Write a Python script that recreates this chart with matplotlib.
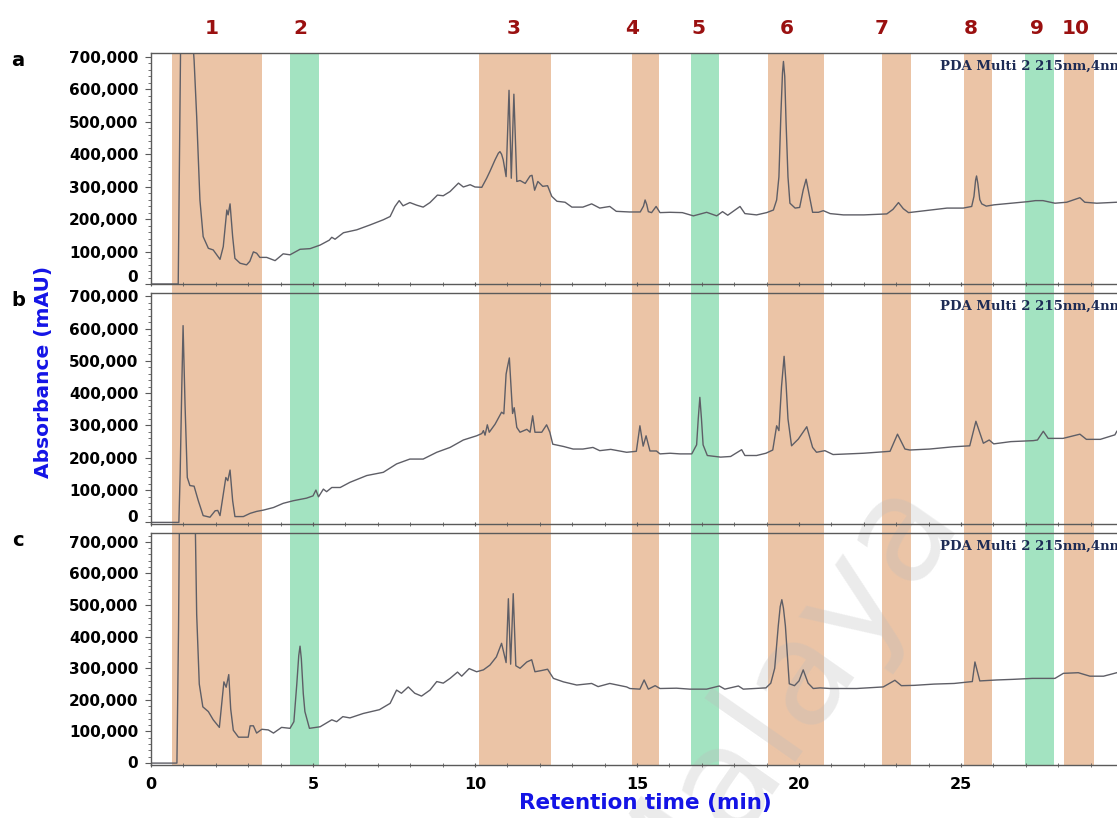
import matplotlib
matplotlib.use('Agg')
import matplotlib.pyplot as plt
from matplotlib.ticker import MultipleLocator, FuncFormatter

plt.rcParams['font.family'] = 'DejaVu Sans'
plt.rcParams['font.weight'] = 'bold'

# ---------------- data ----------------
band_starts = [0.65, 4.29, 10.12, 14.85, 16.67, 19.04, 22.56, 25.09, 26.98, 28.18]
band_ends = [3.43, 5.19, 12.35, 15.68, 17.53, 20.77, 23.46, 25.96, 27.87, 29.10]
band_kinds = ['o', 'g', 'o', 'o', 'g', 'o', 'o', 'o', 'g', 'o']
band_labels = ['1', '2', '3', '4', '5', '6', '7', '8', '9', '10']
band_label_x = [1.88, 4.60, 11.20, 14.85, 16.90, 19.63, 22.56, 25.30, 27.35, 28.55]

panel_letters = ['a', 'b', 'c']

# panel a : retention time (min), absorbance (thousand mAU)
a_time = [0.0, 0.84, 0.86, 0.92, 1.28, 1.33, 1.41, 1.51, 1.61, 1.77, 1.92, 2.13, 2.23, 2.34, 2.38,
          2.44, 2.52, 2.59, 2.75, 2.95, 3.05, 3.16, 3.26, 3.36, 3.57, 3.83, 4.08, 4.29, 4.60, 4.91,
          5.22, 5.50, 5.58, 5.68, 5.94, 6.35, 6.76, 7.17, 7.38, 7.53, 7.66, 7.78, 7.99, 8.20, 8.40,
          8.61, 8.84, 9.02, 9.23, 9.49, 9.64, 9.85, 10.00, 10.21, 10.36, 10.46, 10.62, 10.72, 10.77,
          10.82, 10.87, 10.96, 11.05, 11.12, 11.20, 11.29, 11.39, 11.55, 11.70, 11.76, 11.84, 11.94,
          12.09, 12.24, 12.37, 12.53, 12.78, 12.99, 13.33, 13.60, 13.85, 14.16, 14.36, 14.77, 15.10,
          15.20, 15.25, 15.30, 15.35, 15.45, 15.59, 15.71, 16.02, 16.40, 16.74, 17.15, 17.46, 17.64,
          17.80, 18.18, 18.33, 18.69, 19.00, 19.21, 19.31, 19.38, 19.44, 19.49, 19.52, 19.56, 19.60,
          19.66, 19.72, 19.88, 20.02, 20.13, 20.22, 20.32, 20.42, 20.60, 20.75, 20.96, 21.37, 22.00,
          22.71, 22.90, 23.07, 23.22, 23.38, 23.64, 24.05, 24.57, 25.07, 25.33, 25.40, 25.45, 25.48,
          25.52, 25.58, 25.64, 25.78, 26.02, 26.54, 27.08, 27.30, 27.53, 27.90, 28.26, 28.67, 28.82,
          29.19, 29.81]
a_abs = [0, 0, 200, 800, 760, 690, 516, 259, 146, 110, 105, 76, 115, 228, 213,
         247, 146, 79, 64, 59, 70, 99, 95, 82, 82, 72, 93, 90, 107, 109,
         120, 135, 144, 138, 158, 167, 182, 198, 208, 239, 257, 241, 251, 243, 237,
         251, 274, 272, 285, 311, 299, 306, 299, 298, 326, 347, 383, 403, 408,
         400, 383, 331, 597, 326, 585, 316, 319, 310, 333, 335, 289, 316,
         301, 303, 270, 255, 252, 237, 237, 247, 234, 239, 224, 222, 222,
         240, 259, 245, 223, 220, 239, 220, 221, 220, 210, 221, 210, 223,
         212, 239, 217, 213, 220, 228, 259, 330, 520, 650, 686, 640, 500,
         330, 249, 234, 236, 290, 323, 272, 221, 221, 226, 217, 213, 213,
         216, 230, 251, 232, 220, 223, 228, 234, 234, 239, 270, 320, 333,
         310, 260, 247, 240, 244, 249, 254, 257, 257, 249, 252, 266, 252,
         249, 252]

b_time = [0.0, 0.86, 0.90, 0.95, 0.99, 1.05, 1.12, 1.20, 1.33, 1.46, 1.61, 1.82, 1.98, 2.06, 2.13,
          2.31, 2.37, 2.44, 2.52, 2.59, 2.85, 3.06, 3.26, 3.47, 3.78, 4.08, 4.39, 4.80, 5.00, 5.09,
          5.17, 5.32, 5.42, 5.58, 5.84, 6.14, 6.66, 7.17, 7.58, 7.99, 8.40, 8.82, 9.23, 9.64, 10.05,
          10.21, 10.26, 10.31, 10.38, 10.44, 10.62, 10.82, 10.89, 10.96, 11.00, 11.06, 11.11, 11.16,
          11.21, 11.29, 11.39, 11.60, 11.70, 11.78, 11.85, 12.06, 12.21, 12.31, 12.40, 12.73, 13.03,
          13.33, 13.64, 13.85, 14.19, 14.68, 14.98, 15.09, 15.19, 15.28, 15.40, 15.60, 15.71, 16.02,
          16.33, 16.69, 16.84, 16.89, 16.94, 16.99, 17.04, 17.17, 17.58, 17.89, 18.23, 18.33, 18.69,
          18.98, 19.19, 19.31, 19.38, 19.46, 19.54, 19.60, 19.66, 19.77, 19.98, 20.24, 20.42, 20.54,
          20.80, 21.05, 21.99, 22.81, 23.04, 23.27, 23.42, 24.03, 24.76, 25.27, 25.46, 25.69, 25.87,
          26.01, 26.54, 27.23, 27.36, 27.54, 27.69, 28.15, 28.67, 28.87, 29.30, 29.75, 29.81]
b_abs = [0, 0, 150, 418, 609, 366, 139, 114, 112, 67, 21, 16, 36, 37, 21,
         139, 129, 162, 67, 18, 18, 28, 34, 38, 46, 59, 67, 75, 82, 100,
         79, 103, 95, 108, 108, 124, 145, 155, 181, 196, 196, 217, 232, 255, 268,
         275, 284, 270, 302, 279, 304, 341, 336, 459, 480, 509, 420, 337,
         355, 294, 279, 288, 279, 330, 279, 279, 302, 279, 242, 235, 227,
         227, 232, 222, 226, 217, 220, 299, 236, 268, 221, 221, 212, 214,
         212, 212, 240, 320, 387, 320, 240, 207, 202, 204, 225, 207, 207,
         214, 224, 299, 284, 420, 514, 430, 320, 237, 258, 296, 232, 217,
         222, 210, 214, 220, 273, 227, 224, 227, 234, 237, 313, 245, 255,
         243, 250, 253, 255, 282, 260, 260, 273, 257, 257, 271, 282]

c_time = [0.0, 0.80, 0.85, 0.88, 1.36, 1.41, 1.49, 1.60, 1.77, 1.92, 2.11, 2.25, 2.32, 2.40, 2.46,
          2.54, 2.70, 3.00, 3.06, 3.16, 3.26, 3.42, 3.62, 3.78, 4.03, 4.29, 4.41, 4.50, 4.56, 4.60,
          4.64, 4.70, 4.75, 4.89, 5.22, 5.58, 5.73, 5.92, 6.14, 6.55, 7.05, 7.38, 7.58, 7.73, 7.94,
          8.14, 8.35, 8.61, 8.82, 9.02, 9.23, 9.46, 9.59, 9.82, 10.05, 10.26, 10.46, 10.66, 10.82,
          10.96, 11.03, 11.10, 11.18, 11.26, 11.39, 11.60, 11.75, 11.85, 12.06, 12.24, 12.42, 12.73,
          13.14, 13.60, 13.80, 14.16, 14.68, 14.78, 15.09, 15.22, 15.35, 15.56, 15.71, 16.22, 16.63,
          17.15, 17.54, 17.71, 18.13, 18.28, 18.98, 19.13, 19.25, 19.36, 19.42, 19.47, 19.52, 19.58,
          19.70, 19.86, 20.00, 20.13, 20.28, 20.44, 20.65, 20.96, 21.78, 22.60, 22.96, 23.16, 23.56,
          24.17, 24.79, 25.35, 25.43, 25.58, 26.10, 26.61, 27.20, 27.90, 28.16, 28.62, 28.98, 29.40,
          29.81]
c_abs = [0, 0, 427, 800, 800, 470, 250, 178, 163, 137, 113, 257, 240, 280, 171,
         104, 82, 82, 118, 118, 95, 107, 105, 95, 113, 110, 131, 250, 340, 370,
         330, 220, 163, 110, 115, 137, 131, 147, 143, 157, 169, 189, 231, 221, 241,
         221, 212, 231, 258, 253, 268, 288, 275, 299, 289, 295, 310, 336, 379,
         318, 520, 313, 536, 308, 300, 320, 327, 289, 293, 297, 268, 257,
         247, 252, 242, 252, 241, 236, 234, 263, 234, 245, 236, 237, 234,
         234, 244, 234, 244, 234, 238, 253, 300, 434, 495, 517, 490, 434,
         251, 245, 260, 295, 253, 236, 238, 236, 236, 241, 262, 245, 246,
         250, 252, 258, 320, 260, 263, 265, 268, 268, 284, 286, 275, 275,
         286]

traces = [(a_time, a_abs), (b_time, b_abs), (c_time, c_abs)]

# ---------------- layout ----------------
W, H = 1117, 818
def fx(px):
    return px / W
def fy(py):
    return 1 - py / H

x0 = 151
px_per_min = 32.4
xmax = (W - x0) / px_per_min
panel_px = [(53, 284), (293, 524), (533, 765)]
panel_ylim = [(0, 712000), (-5000, 710000), (-6000, 728000)]
zero_label_py = [278, 517, 763]

band_colors = {'o': '#ebc4a6', 'g': '#a3e3c1'}
trace_color = '#5e5e66'
spine_color = '#5a5a5a'
label_red = '#9a1010'
axis_blue = '#1414e6'

fig = plt.figure(figsize=(W / 100, H / 100), dpi=100)

# background bands spanning all three panels
bg = fig.add_axes([fx(x0), fy(765), 1 - fx(x0), fy(53) - fy(765)], zorder=0)
bg.set_xlim(0, xmax)
bg.set_ylim(0, 1)
bg.axis('off')
for s, e, k in zip(band_starts, band_ends, band_kinds):
    bg.axvspan(s, e, color=band_colors[k], lw=0)

# faint watermark
bg.text(fx(775), fy(700), 'Malaya', transform=fig.transFigure, fontsize=105,
        fontweight='normal', color='#bdbdbd', alpha=0.3, rotation=55,
        ha='center', va='center', clip_on=False)

fmt = FuncFormatter(lambda v, p: '' if abs(v) < 1 else f'{int(round(v)):,}')

for i, ((top, bot), yl, (t, v)) in enumerate(zip(panel_px, panel_ylim, traces)):
    ax = fig.add_axes([fx(x0), fy(bot), 1 - fx(x0), fy(top) - fy(bot)], zorder=1)
    ax.patch.set_alpha(0)
    ax.plot(t, [x * 1000 for x in v], color=trace_color, lw=1.0, solid_joinstyle='round')
    ax.set_xlim(0, xmax)
    ax.set_ylim(*yl)
    ax.spines['right'].set_visible(False)
    for sp in ['left', 'top', 'bottom']:
        ax.spines[sp].set_color(spine_color)
        ax.spines[sp].set_linewidth(1.0)
    ax.yaxis.set_major_locator(MultipleLocator(100000))
    ax.yaxis.set_minor_locator(MultipleLocator(20000))
    ax.yaxis.set_major_formatter(fmt)
    ax.xaxis.set_major_locator(MultipleLocator(5))
    ax.xaxis.set_minor_locator(MultipleLocator(1))
    ax.tick_params(axis='y', which='major', length=4, width=0.8, direction='out',
                   labelsize=11, pad=5, color=spine_color)
    ax.tick_params(axis='y', which='minor', length=2, width=0.6, direction='out',
                   color=spine_color)
    ax.tick_params(axis='x', which='major', length=3.5, width=0.8, direction='inout',
                   labelsize=11.5, pad=7, color=spine_color, labelbottom=(i == 2))
    ax.tick_params(axis='x', which='minor', length=2.5, width=0.6, direction='inout',
                   color=spine_color)
    # zero label nudged up as in the reference
    fig.text(fx(138), fy(zero_label_py[i]), '0', fontsize=11, fontweight='bold',
             ha='right', va='center', color='black')
    fig.text(fx(18), fy(top + 8), panel_letters[i], fontsize=14, fontweight='bold',
             ha='center', va='center', color='black')
    fig.text(fx(940), fy(top + 13), 'PDA Multi 2 215nm,4nm', family='DejaVu Serif',
             fontweight='bold', fontsize=9.5, color='#1d2b55', ha='left', va='center')

for lab, xv in zip(band_labels, band_label_x):
    fig.text(fx(x0 + xv * px_per_min), fy(28), lab, fontsize=14.5, fontweight='bold',
             color=label_red, ha='center', va='center')

fig.text(fx(645), fy(803), 'Retention time (min)', fontsize=15.5, fontweight='bold',
         color=axis_blue, ha='center', va='center')
fig.text(fx(44), fy(372), 'Absorbance (mAU)', fontsize=14.5, fontweight='bold',
         color=axis_blue, ha='center', va='center', rotation=90)

fig.savefig('out.png', dpi=100)
